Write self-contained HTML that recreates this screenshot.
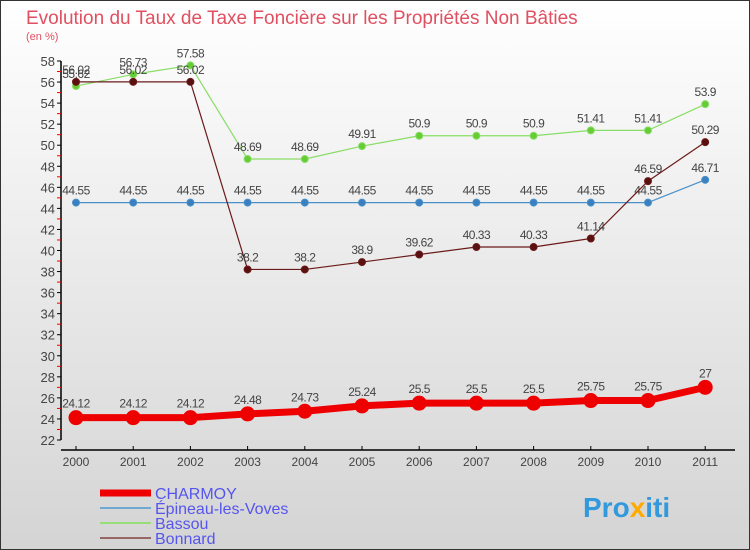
<!DOCTYPE html>
<html><head><meta charset="utf-8"><style>
body{margin:0;width:750px;height:550px;overflow:hidden}
svg{display:block;font-family:"Liberation Sans",sans-serif}
</style></head><body>
<svg id="c" width="750" height="550">
<defs><linearGradient id="bg" x1="0" y1="0" x2="0" y2="1"><stop offset="0" stop-color="#ffffff"/><stop offset="1" stop-color="#d4d4d4"/></linearGradient></defs>
<rect x="0.5" y="0.5" width="749" height="549" fill="url(#bg)" stroke="#333"/>
<text x="26" y="24" font-size="19" fill="#e05060">Evolution du Taux de Taxe Foncière sur les Propriétés Non Bâties</text>
<text x="26" y="40" font-size="11" fill="#e05060">(en %)</text>
<g id="axes"></g><g id="series"></g><g id="legend"></g>
<text x="583" y="517" font-size="28" font-weight="bold" fill="#3399dd">Pro<tspan fill="#ffaa00">x</tspan>iti</text>
</svg>
<script>
const years=["2000","2001","2002","2003","2004","2005","2006","2007","2008","2009","2010","2011"];
const yTicks=[22,24,26,28,30,32,34,36,38,40,42,44,46,48,50,52,54,56,58];
const charmoy=[24.12,24.12,24.12,24.48,24.73,25.24,25.5,25.5,25.5,25.75,25.75,27];
const epineau=[44.55,44.55,44.55,44.55,44.55,44.55,44.55,44.55,44.55,44.55,44.55,46.71];
const bassou=[55.62,56.73,57.58,48.69,48.69,49.91,50.9,50.9,50.9,51.41,51.41,53.9];
const bonnard=[56.02,56.02,56.02,38.2,38.2,38.9,39.62,40.33,40.33,41.14,46.59,50.29];
const NS="http://www.w3.org/2000/svg";
function X(i){return 76+i*57.2;}
function Y(v){return 440-(v-22)*(379/36);}
function el(t,a,p){const e=document.createElementNS(NS,t);for(const k in a)e.setAttribute(k,a[k]);p.appendChild(e);return e;}
const ax=document.getElementById('axes');
let l=el('line',{x1:61,y1:Y(58),x2:61,y2:Y(22),stroke:'#000','stroke-width':1.5},ax);


l=el('line',{x1:61,y1:450,x2:735,y2:450,stroke:'#000','stroke-width':1.5},ax);


yTicks.forEach((v,i)=>{
 el('line',{x1:57,x2:61,y1:Y(v),y2:Y(v),stroke:'#000'},ax);
 if(i<yTicks.length-1)el('line',{x1:57,x2:61,y1:Y(v+1),y2:Y(v+1),stroke:'#e00'},ax);
 const t=el('text',{x:55,y:Y(v)+5,'font-size':13,'text-anchor':'end',fill:'#444'},ax);t.textContent=v;
 
 
});
years.forEach((y,i)=>{
 el('line',{x1:X(i),x2:X(i),y1:446,y2:450,stroke:'#000'},ax);
 const t=el('text',{x:X(i),y:466,'font-size':12,'text-anchor':'middle',fill:'#444'},ax);t.textContent=y;
 
 
});
const sg=document.getElementById('series');
function series(d,color,dark,w,r,name,lblOff){
 const g=el('g',{},sg);
 
 
 el('polyline',{points:d.map((v,i)=>X(i)+','+Y(v)).join(' '),fill:'none',stroke:color,'stroke-width':w,'stroke-linejoin':'round'},g);
 d.forEach((v,i)=>{
  const c=el('circle',{cx:X(i),cy:Y(v),r:r,fill:dark,stroke:color,'stroke-width':1},g);
  
  
  const t=el('text',{x:X(i),y:Y(v)+lblOff,'font-size':12,'text-anchor':'middle',fill:'#444','letter-spacing':'-0.5'},g);t.textContent=v;
  
  
 });
}
series(epineau,'#4a90c8','#3a80c0',1.2,3.5,'epineau',-8);
series(bassou,'#88dd66','#66cc33',1.2,3.5,'bassou',-8);
series(bonnard,'#6b1a1a','#5a1010',1.2,3.5,'bonnard',-8);
series(charmoy,'#ee0000','#ee0000',7,7,'charmoy',-10);
const lg=document.getElementById('legend');
const items=[["CHARMOY","#ee0000",7],["Épineau-les-Voves","#6fa8d0",2],["Bassou","#99dd77",2],["Bonnard","#996666",2]];
items.forEach((it,i)=>{
 const y=493+i*15;
 const g=el('g',{},lg);
 
 
 el('line',{x1:100,x2:151,y1:y,y2:y,stroke:it[1],'stroke-width':it[2]},g);
 const t=el('text',{x:155,y:y+6,'font-size':16,fill:'#5555ee'},g);t.textContent=it[0];
});
</script>
</body></html>
